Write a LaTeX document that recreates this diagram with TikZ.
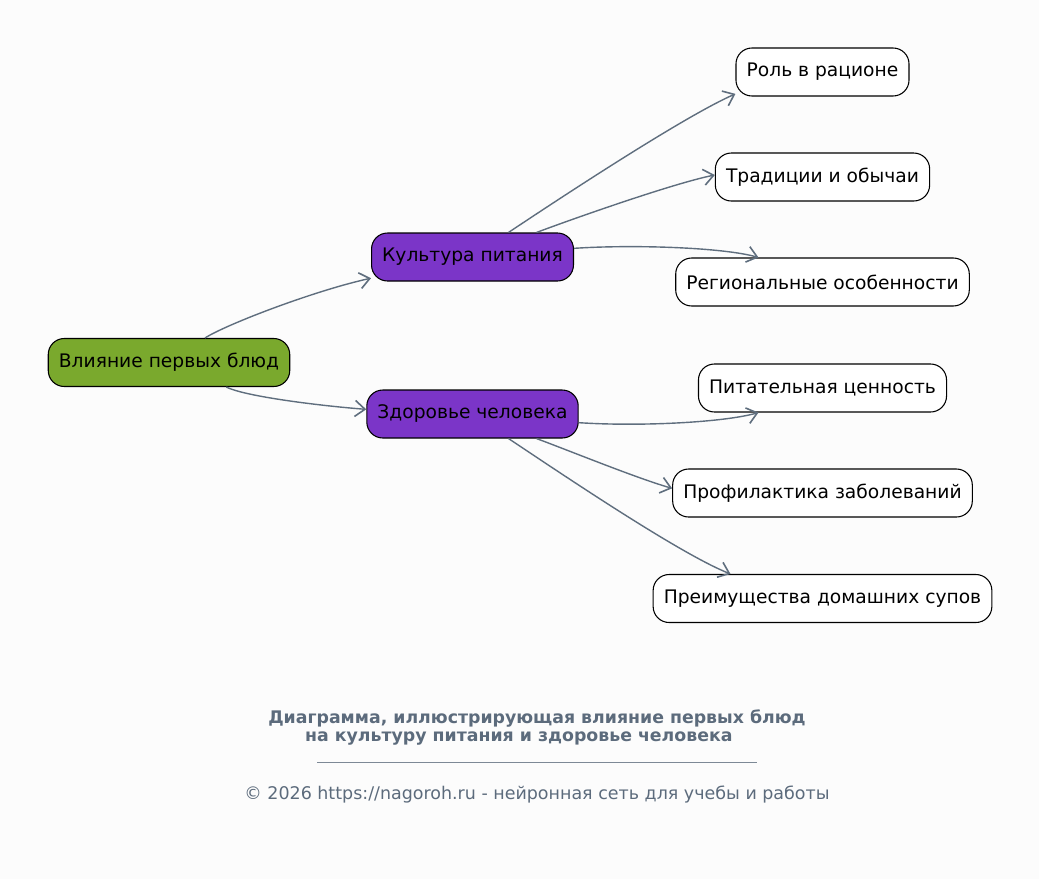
\documentclass[tikz,border=0pt]{standalone}
\usepackage{fontspec}
\setmainfont{DejaVu Sans}
\usetikzlibrary{arrows.meta}
\definecolor{bg}{RGB}{252,252,252}
\definecolor{rootgreen}{RGB}{122,169,45}
\definecolor{midpurple}{RGB}{123,53,200}
\definecolor{edgegray}{RGB}{95,110,126}
\definecolor{captiongray}{RGB}{92,107,124}
\tikzset{
  box/.style={draw=black, line width=0.8pt, rounded corners=12pt, minimum height=36pt,
    inner xsep=8pt, font=\fontsize{14}{16}\selectfont, text=black},
  rootbox/.style={box, fill=rootgreen},
  midbox/.style={box, fill=midpurple},
  leafbox/.style={box, fill=white},
  link/.style={draw=edgegray, line width=1.05pt, -{Straight Barb[length=7.5pt,width=12pt,line width=1.2pt]}},
}
\begin{document}
\begin{tikzpicture}[x=0.75pt,y=-0.75pt]
\path[fill=bg] (0,0) rectangle (1039,879);
\useasboundingbox (0,0) rectangle (1039,879);
\node[rootbox] (root) at (169,362.5) {Влияние первых блюд};
\node[midbox] (kult) at (472.5,257) {Культура питания};
\node[midbox] (zdor) at (472.5,414) {Здоровье человека};
\node[leafbox] (rol) at (822.5,72) {Роль в рационе};
\node[leafbox] (trad) at (822.5,177) {Традиции и обычаи};
\node[leafbox] (reg) at (822.5,282) {Региональные особенности};
\node[leafbox] (pit) at (822.5,388) {Питательная ценность};
\node[leafbox] (prof) at (822.5,493) {Профилактика заболеваний};
\node[leafbox] (preim) at (822.5,598.5) {Преимущества домашних супов};

\draw[link] ([xshift=27pt]root.north) .. controls +(22,-14) and +(-55,12) .. ([yshift=2.5pt]kult.south west);
\draw[link] ([xshift=43pt]root.south) .. controls +(20,10) and +(-40,-3) .. ([yshift=3.5pt]zdor.west);
\draw[link] ([xshift=27pt]kult.north) .. controls +(60,-40) and +(-50,22) .. ([yshift=2pt]rol.south west);
\draw[link] ([xshift=48pt]kult.north) .. controls +(40,-15) and +(-40,8) .. ([yshift=1.5pt]trad.west);
\draw[link] ([yshift=6.5pt]kult.east) .. controls +(60,-4) and +(-35,-10) .. ([xshift=-48pt]reg.north);
\draw[link] ([yshift=-6.5pt]zdor.east) .. controls +(60,4) and +(-35,10) .. ([xshift=-48pt]pit.south);
\draw[link] ([xshift=48pt]zdor.south) .. controls +(35,13) and +(-35,-10) .. ([yshift=3.5pt]prof.west);
\draw[link] ([xshift=27pt]zdor.south) .. controls +(60,40) and +(-50,-20) .. ([xshift=-69pt]preim.north);

\node[font=\bfseries\fontsize{13}{13.5}\selectfont, text=captiongray, align=center] (cap) at (537,727)
  {Диаграмма, иллюстрирующая влияние первых блюд\\на культуру питания и здоровье человека\hspace*{2.1em}};
\coordinate (ula) at (317,762);
\coordinate (ulb) at (757,762);
\draw[captiongray!80, line width=0.5pt] (ula) -- (ulb);
\node[font=\fontsize{13.1}{15}\selectfont, text=captiongray] (copy) at (537,795)
  {© 2026 https://nagoroh.ru - нейронная сеть для учебы и работы};
\end{tikzpicture}
\end{document}
